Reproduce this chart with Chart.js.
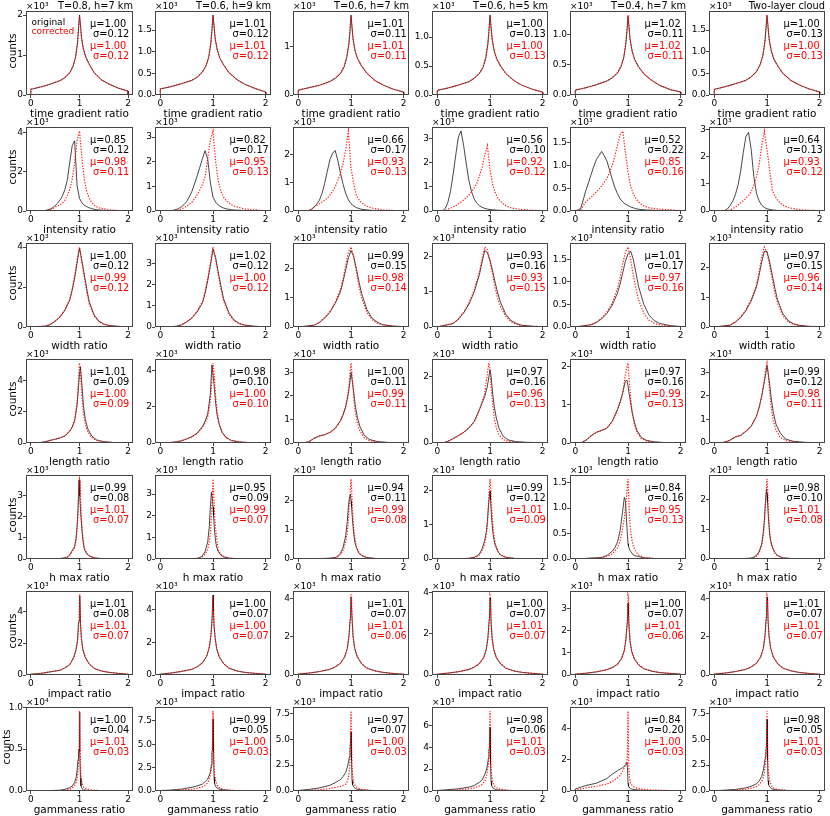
<!DOCTYPE html>
<html>
<head>
<meta charset="utf-8">
<script src="https://cdn.jsdelivr.net/npm/chart.js@4.4.0/dist/chart.umd.min.js"></script>
<style>
  body { margin: 0; background: #fff; }
  #fig { position: relative; width: 830px; height: 816px; overflow: hidden; font-family: 'DejaVu Sans', sans-serif; color: #000; }
  #fig canvas { position: absolute; }
  .t { position: absolute; white-space: pre; line-height: 1; }
</style>
</head>
<body>
<div id="fig"></div>
<script>
// column titles and x labels
var titles = ["T=0.8, h=7 km", "T=0.6, h=9 km", "T=0.6, h=7 km", "T=0.6, h=5 km", "T=0.4, h=7 km", "Two-layer cloud"];
var xLabels = ["time gradient ratio", "intensity ratio", "width ratio", "length ratio", "h max ratio", "impact ratio", "gammaness ratio"];

// row 1: time gradient ratio (counts x10^3)
var xTime = [0, 0.2, 0.4, 0.6, 0.7, 0.8, 0.87, 0.92, 0.96, 0.98, 1.0, 1.02, 1.04, 1.08, 1.13, 1.2, 1.3, 1.45, 1.6, 1.8, 2.0];
var timeOrig = [
  [0.14,0.2,0.27,0.36,0.43,0.56,0.72,0.95,1.3,1.65,2.0,1.75,1.45,1.15,0.95,0.77,0.56,0.38,0.28,0.17,0.1],
  [0.14,0.19,0.26,0.34,0.41,0.53,0.68,0.88,1.2,1.5,1.85,1.6,1.32,1.05,0.85,0.7,0.52,0.36,0.25,0.15,0.07],
  [0.1,0.15,0.2,0.28,0.34,0.44,0.58,0.78,1.05,1.3,1.65,1.4,1.15,0.9,0.74,0.6,0.45,0.3,0.21,0.12,0.06],
  [0.08,0.12,0.17,0.23,0.29,0.37,0.48,0.64,0.88,1.1,1.38,1.18,0.97,0.76,0.62,0.5,0.37,0.25,0.17,0.1,0.05],
  [0.08,0.12,0.17,0.23,0.28,0.36,0.47,0.62,0.85,1.05,1.3,1.12,0.92,0.72,0.58,0.47,0.35,0.24,0.16,0.09,0.05],
  [0.13,0.19,0.26,0.34,0.42,0.54,0.7,0.9,1.22,1.52,1.84,1.58,1.3,1.03,0.83,0.68,0.5,0.34,0.24,0.14,0.07]
];
var timeCorr = [
  [0.15,0.2,0.27,0.36,0.44,0.56,0.73,0.96,1.32,1.7,1.98,1.72,1.43,1.14,0.94,0.77,0.56,0.38,0.27,0.17,0.1],
  [0.14,0.2,0.26,0.34,0.41,0.54,0.69,0.89,1.22,1.52,1.83,1.58,1.3,1.04,0.85,0.7,0.52,0.36,0.25,0.15,0.07],
  [0.1,0.15,0.2,0.28,0.35,0.45,0.59,0.79,1.07,1.33,1.62,1.38,1.13,0.89,0.73,0.6,0.45,0.3,0.21,0.12,0.06],
  [0.08,0.12,0.17,0.23,0.29,0.38,0.49,0.65,0.9,1.12,1.36,1.16,0.96,0.75,0.61,0.5,0.37,0.25,0.17,0.1,0.05],
  [0.08,0.12,0.17,0.23,0.29,0.37,0.48,0.63,0.87,1.08,1.32,1.1,0.9,0.71,0.57,0.46,0.35,0.24,0.16,0.09,0.05],
  [0.13,0.19,0.26,0.34,0.42,0.54,0.71,0.91,1.24,1.55,1.85,1.56,1.28,1.02,0.83,0.68,0.5,0.34,0.24,0.14,0.07]
];
var timeTicks = [[0,1,2],[0,0.5,1,1.5],[0,1],[0,0.5,1],[0,0.5,1],[0,0.5,1,1.5]];

// row 2: intensity ratio
var xInten = [0,0.1,0.15,0.2,0.25,0.3,0.35,0.4,0.45,0.5,0.55,0.6,0.65,0.7,0.75,0.8,0.85,0.9,0.95,1.0,1.05,1.1,1.15,1.2,1.25,1.3,1.35,1.4,1.6,2.0];
var intenOrig = [
  [0,0,0,0,0.01,0.03,0.06,0.1,0.17,0.28,0.4,0.56,0.78,1.1,1.6,2.5,3.35,3.6,1.3,0.65,0.42,0.3,0.22,0.16,0.12,0.09,0.07,0.05,0.02,0],
  [0,0,0,0.01,0.03,0.06,0.1,0.17,0.26,0.38,0.57,0.8,1.1,1.43,1.78,2.13,2.45,2.1,1.15,0.56,0.36,0.24,0.17,0.12,0.09,0.07,0.05,0.04,0.02,0],
  [0,0,0,0.02,0.06,0.14,0.24,0.38,0.62,0.98,1.4,1.82,2.05,2.15,1.8,1.34,0.95,0.62,0.4,0.26,0.18,0.12,0.09,0.06,0.05,0.04,0.03,0.02,0.01,0],
  [0,0.01,0.1,0.35,0.8,1.5,2.3,3.05,3.3,2.7,1.95,1.25,0.8,0.5,0.32,0.22,0.15,0.11,0.08,0.06,0.05,0.04,0.03,0.03,0.02,0.02,0.01,0.01,0,0],
  [0,0.05,0.24,0.45,0.62,0.8,0.98,1.13,1.22,1.31,1.22,1.1,0.9,0.7,0.52,0.38,0.27,0.2,0.15,0.12,0.09,0.07,0.05,0.04,0.03,0.03,0.02,0.02,0.01,0],
  [0,0,0,0.02,0.08,0.2,0.36,0.6,0.95,1.46,2.15,2.75,2.9,2.27,1.27,0.65,0.38,0.21,0.13,0.08,0.06,0.04,0.03,0.02,0.02,0.01,0.01,0.01,0,0]
];
var intenCorr = [
  [0,0,0,0,0.01,0.02,0.04,0.08,0.13,0.2,0.26,0.32,0.42,0.55,0.8,1.1,1.6,2.5,3.6,4.1,2.7,1.6,1.0,0.65,0.45,0.3,0.22,0.16,0.06,0],
  [0,0,0,0.01,0.02,0.03,0.05,0.08,0.13,0.2,0.27,0.35,0.5,0.66,0.85,1.08,1.4,2.13,2.9,3.25,2.0,1.2,0.8,0.56,0.42,0.33,0.26,0.2,0.08,0.01],
  [0,0,0.01,0.02,0.06,0.14,0.2,0.26,0.32,0.38,0.46,0.56,0.7,0.86,1.08,1.34,1.7,2.18,2.84,1.5,1.0,0.56,0.4,0.3,0.22,0.17,0.13,0.1,0.04,0],
  [0,0,0.02,0.07,0.12,0.17,0.22,0.3,0.37,0.45,0.55,0.66,0.8,0.95,1.15,1.45,1.8,2.3,2.7,1.7,1.1,0.75,0.52,0.4,0.3,0.22,0.17,0.13,0.06,0.01],
  [0,0.02,0.12,0.2,0.26,0.3,0.36,0.42,0.48,0.55,0.63,0.72,0.85,1.0,1.2,1.45,1.68,1.76,1.3,0.85,0.55,0.38,0.27,0.2,0.15,0.11,0.09,0.07,0.04,0.01],
  [0,0,0,0.01,0.02,0.04,0.08,0.15,0.22,0.3,0.38,0.46,0.58,0.71,0.95,1.27,1.7,2.4,2.95,2.27,1.5,0.78,0.55,0.4,0.3,0.22,0.17,0.13,0.05,0.01]
];
var intenTicks = [[0,2,4],[0,1,2,3],[0,1,2],[0,1,2,3],[0,0.5,1,1.5],[0,1,2,3]];

// row 3: width ratio
var xWidth = [0,0.3,0.4,0.5,0.6,0.7,0.8,0.85,0.9,0.95,1.0,1.05,1.1,1.15,1.2,1.3,1.4,1.5,1.6,1.8,2.0];
var widthOrig = [
  [0,0.04,0.12,0.29,0.5,0.84,1.35,1.85,2.45,3.2,3.95,3.3,2.6,1.9,1.27,0.6,0.29,0.15,0.08,0.03,0.01],
  [0,0.03,0.1,0.24,0.42,0.72,1.15,1.6,2.2,2.9,3.7,3.3,2.6,1.95,1.35,0.68,0.33,0.17,0.09,0.03,0.01],
  [0,0.06,0.15,0.3,0.5,0.8,1.2,1.55,1.95,2.35,2.6,2.4,2.0,1.55,1.15,0.6,0.3,0.16,0.08,0.03,0.01],
  [0,0.1,0.22,0.4,0.65,1.0,1.5,1.85,2.18,2.12,1.9,1.6,1.25,0.95,0.7,0.36,0.18,0.1,0.05,0.02,0.01],
  [0,0.05,0.1,0.18,0.3,0.48,0.75,0.95,1.2,1.45,1.62,1.68,1.5,1.2,0.9,0.5,0.26,0.14,0.08,0.03,0.01],
  [0,0.06,0.16,0.32,0.55,0.88,1.35,1.75,2.2,2.55,2.55,2.2,1.75,1.3,0.92,0.45,0.22,0.11,0.06,0.02,0.01]
];
var widthCorr = [
  [0,0.05,0.13,0.3,0.52,0.86,1.4,1.9,2.55,3.35,4.0,3.2,2.45,1.75,1.15,0.55,0.26,0.13,0.07,0.03,0.01],
  [0,0.03,0.1,0.25,0.44,0.75,1.2,1.68,2.3,3.05,3.8,3.2,2.5,1.8,1.25,0.6,0.29,0.15,0.08,0.03,0.01],
  [0,0.06,0.16,0.32,0.52,0.84,1.28,1.65,2.1,2.55,2.72,2.4,1.9,1.4,1.0,0.5,0.25,0.13,0.07,0.03,0.01],
  [0,0.1,0.22,0.42,0.68,1.05,1.58,1.95,2.28,2.2,1.88,1.5,1.1,0.8,0.58,0.3,0.15,0.08,0.04,0.02,0.01],
  [0,0.05,0.1,0.2,0.33,0.53,0.85,1.1,1.4,1.65,1.77,1.5,1.15,0.85,0.6,0.3,0.15,0.08,0.05,0.02,0.01],
  [0,0.06,0.17,0.34,0.58,0.93,1.42,1.85,2.35,2.7,2.5,2.1,1.6,1.15,0.8,0.38,0.18,0.09,0.05,0.02,0.01]
];
var widthTicks = [[0,2,4],[0,1,2,3],[0,1,2],[0,1,2],[0,0.5,1,1.5],[0,1,2]];

// row 4: length ratio
var xLength = [0,0.1,0.2,0.3,0.4,0.5,0.6,0.7,0.8,0.85,0.9,0.95,0.98,1.0,1.02,1.05,1.08,1.12,1.17,1.25,1.35,1.5,1.7,2.0];
var lengthOrig = [
  [0,0,0.03,0.08,0.17,0.24,0.32,0.45,0.76,1.0,1.4,2.4,3.6,4.4,4.86,3.7,2.4,1.5,0.9,0.45,0.2,0.08,0.03,0.01],
  [0,0.01,0.03,0.06,0.12,0.22,0.35,0.55,0.9,1.2,1.6,2.7,4.3,3.8,3.2,2.2,1.5,1.0,0.6,0.3,0.14,0.06,0.02,0.01],
  [0,0.01,0.05,0.2,0.3,0.35,0.45,0.62,0.95,1.2,1.55,2.1,2.6,3.0,2.7,2.2,1.6,1.1,0.7,0.33,0.15,0.06,0.02,0.01],
  [0,0,0.05,0.13,0.22,0.32,0.45,0.64,1.0,1.2,1.39,1.7,2.0,2.2,2.0,1.5,1.1,0.75,0.45,0.2,0.09,0.04,0.02,0.01],
  [0,0,0.07,0.19,0.28,0.33,0.39,0.57,0.88,1.08,1.32,1.62,1.65,1.5,1.3,1.05,0.8,0.55,0.33,0.15,0.07,0.03,0.01,0],
  [0,0,0.04,0.12,0.26,0.32,0.5,0.71,1.14,1.5,2.0,2.6,3.0,3.29,3.0,2.5,1.9,1.3,0.8,0.43,0.17,0.07,0.03,0.01]
];
var lengthCorr = [
  [0,0,0.03,0.08,0.17,0.24,0.32,0.46,0.78,1.05,1.5,2.6,4.0,5.1,4.4,3.0,1.9,1.2,0.7,0.35,0.16,0.07,0.03,0.01],
  [0,0.01,0.03,0.06,0.12,0.22,0.34,0.52,0.85,1.1,1.45,2.3,3.5,4.4,3.9,2.6,1.7,1.05,0.6,0.28,0.13,0.05,0.02,0.01],
  [0,0.01,0.05,0.2,0.3,0.35,0.45,0.62,0.95,1.2,1.55,2.2,2.9,3.4,2.9,2.0,1.35,0.85,0.5,0.23,0.1,0.04,0.02,0.01],
  [0,0,0.05,0.13,0.22,0.32,0.45,0.64,1.0,1.22,1.5,2.1,2.4,2.2,1.7,1.2,0.75,0.45,0.25,0.1,0.05,0.02,0.01,0],
  [0,0,0.07,0.19,0.28,0.33,0.39,0.56,0.86,1.05,1.3,1.8,2.0,2.1,1.7,1.2,0.8,0.5,0.28,0.12,0.05,0.02,0.01,0],
  [0,0,0.04,0.12,0.26,0.32,0.5,0.71,1.14,1.5,2.0,2.7,3.2,3.4,3.0,2.2,1.5,0.95,0.55,0.25,0.1,0.04,0.02,0]
];
var lengthTicks = [[0,2,4],[0,2,4],[0,1,2,3],[0,1,2],[0,1,2],[0,1,2,3]];

// row 5: h max ratio
var xHmax = [0,0.5,0.6,0.7,0.75,0.8,0.85,0.9,0.93,0.95,0.97,0.99,1.0,1.01,1.03,1.05,1.07,1.1,1.15,1.2,1.3,1.5,2.0];
var hmaxOrig = [
  [0,0.01,0.02,0.05,0.1,0.2,0.4,0.6,1.0,1.56,2.4,3.75,3.6,3.0,2.0,1.4,0.9,0.45,0.25,0.15,0.05,0.01,0],
  [0,0.01,0.02,0.03,0.07,0.15,0.35,0.8,1.5,2.4,3.08,2.8,2.4,2.0,1.3,0.8,0.55,0.35,0.18,0.1,0.04,0.01,0],
  [0,0.02,0.03,0.05,0.1,0.2,0.4,0.8,1.3,1.8,2.1,2.23,2.0,1.8,1.3,0.9,0.6,0.4,0.2,0.12,0.05,0.01,0],
  [0,0.01,0.02,0.05,0.09,0.15,0.3,0.55,0.8,1.1,1.5,1.9,2.0,1.75,1.2,0.85,0.6,0.4,0.22,0.12,0.05,0.01,0],
  [0,0.03,0.07,0.15,0.22,0.33,0.55,0.95,1.21,1.15,0.8,0.45,0.3,0.25,0.18,0.15,0.12,0.08,0.06,0.05,0.02,0.01,0],
  [0,0.01,0.02,0.03,0.06,0.12,0.25,0.5,0.9,1.3,1.9,2.34,2.2,1.9,1.3,0.85,0.6,0.4,0.22,0.12,0.04,0.01,0]
];
var hmaxCorr = [
  [0,0.01,0.02,0.05,0.09,0.18,0.35,0.55,0.9,1.4,2.2,3.3,3.8,3.7,2.4,1.5,1.0,0.5,0.27,0.15,0.05,0.01,0],
  [0,0,0.01,0.02,0.05,0.1,0.22,0.45,0.8,1.2,2.0,3.0,3.7,3.3,2.0,1.4,0.95,0.4,0.2,0.12,0.04,0.01,0],
  [0,0.01,0.02,0.04,0.08,0.15,0.3,0.6,0.95,1.3,1.9,2.5,2.75,2.5,1.6,1.1,0.75,0.45,0.22,0.13,0.05,0.01,0],
  [0,0.01,0.02,0.04,0.07,0.12,0.25,0.45,0.7,1.0,1.6,2.15,2.35,2.2,1.5,1.1,0.75,0.45,0.22,0.12,0.05,0.01,0],
  [0,0.02,0.05,0.1,0.15,0.22,0.35,0.6,0.8,1.0,1.2,1.45,1.57,1.35,0.8,0.55,0.4,0.25,0.14,0.08,0.03,0.01,0],
  [0,0,0.01,0.02,0.05,0.1,0.2,0.45,0.8,1.2,1.8,2.4,2.69,2.4,1.5,0.9,0.6,0.4,0.2,0.1,0.03,0.01,0]
];
var hmaxTicks = [[0,1,2,3],[0,1,2,3],[0,1,2],[0,1,2],[0,0.5,1,1.5],[0,1,2]];

// row 6: impact ratio
var xImpact = [0,0.2,0.4,0.6,0.7,0.8,0.88,0.93,0.96,0.98,0.99,1.0,1.01,1.02,1.04,1.07,1.12,1.2,1.3,1.45,1.6,1.8,2.0];
var impactOrig = [
  [0.05,0.1,0.2,0.3,0.45,0.65,1.1,1.6,2.2,3.3,3.4,5.0,4.9,3.3,2.3,1.6,1.1,0.7,0.42,0.25,0.17,0.1,0.05],
  [0.05,0.12,0.22,0.35,0.5,0.75,1.15,1.7,2.4,3.3,4.0,4.9,3.9,3.0,2.3,1.6,1.1,0.7,0.42,0.25,0.16,0.1,0.05],
  [0.05,0.1,0.18,0.3,0.42,0.62,0.95,1.4,2.0,2.8,3.0,4.1,4.1,3.0,2.0,1.4,0.95,0.6,0.36,0.22,0.14,0.08,0.04],
  [0.04,0.09,0.16,0.27,0.38,0.56,0.85,1.25,1.8,2.5,2.8,3.75,3.6,2.6,1.8,1.25,0.85,0.55,0.33,0.2,0.13,0.08,0.04],
  [0.04,0.08,0.14,0.24,0.33,0.48,0.75,1.1,1.6,2.2,2.4,3.22,2.7,2.1,1.5,1.05,0.72,0.45,0.28,0.17,0.11,0.07,0.04],
  [0.05,0.1,0.18,0.3,0.42,0.62,0.95,1.4,2.0,2.8,3.1,4.1,3.9,2.9,2.0,1.4,0.95,0.6,0.36,0.22,0.14,0.08,0.04]
];
var impactCorr = [
  [0.05,0.1,0.2,0.3,0.45,0.65,1.1,1.6,2.2,3.0,3.6,5.05,5.05,3.2,2.2,1.6,1.1,0.7,0.42,0.25,0.17,0.1,0.05],
  [0.05,0.12,0.22,0.35,0.5,0.75,1.15,1.7,2.4,3.2,4.0,4.85,4.0,3.0,2.3,1.6,1.1,0.7,0.42,0.25,0.16,0.1,0.05],
  [0.05,0.1,0.18,0.3,0.42,0.62,0.95,1.4,2.0,2.7,3.0,4.2,4.2,2.9,2.0,1.4,0.95,0.6,0.36,0.22,0.14,0.08,0.04],
  [0.04,0.09,0.16,0.27,0.38,0.56,0.85,1.25,1.8,2.4,2.8,3.9,3.8,2.6,1.8,1.25,0.85,0.55,0.33,0.2,0.13,0.08,0.04],
  [0.04,0.08,0.14,0.24,0.33,0.48,0.75,1.1,1.6,2.2,2.6,3.6,3.5,2.3,1.55,1.1,0.75,0.47,0.29,0.18,0.11,0.07,0.04],
  [0.05,0.1,0.18,0.3,0.42,0.62,0.95,1.4,2.0,2.7,3.1,4.2,4.1,2.8,2.0,1.4,0.95,0.6,0.36,0.22,0.14,0.08,0.04]
];
var impactTicks = [[0,2,4],[0,2,4],[0,2,4],[0,2,4],[0,1,2,3],[0,2,4]];

// row 7: gammaness ratio (first panel is x10^4)
var xGamma = [0,0.2,0.4,0.6,0.7,0.8,0.85,0.9,0.93,0.95,0.97,0.98,0.99,1.0,1.01,1.02,1.03,1.05,1.08,1.12,1.2,1.4,2.0];
var gammaOrig = [
  [0,0.002,0.005,0.01,0.02,0.04,0.06,0.1,0.16,0.24,0.38,0.47,0.5,0.94,0.47,0.15,0.06,0.03,0.015,0.01,0.005,0.002,0],
  [0.05,0.1,0.2,0.4,0.55,0.74,1.0,1.28,1.7,2.0,2.8,4.2,4.3,7.66,4.2,1.5,0.8,0.5,0.3,0.2,0.12,0.05,0.01],
  [0.05,0.15,0.3,0.55,0.8,1.1,1.4,1.8,2.3,2.7,3.3,4.0,4.7,5.7,3.0,1.0,0.6,0.4,0.25,0.15,0.1,0.04,0.01],
  [0.05,0.12,0.2,0.35,0.5,0.8,1.0,1.5,1.9,2.3,3.0,3.8,3.9,5.8,2.5,0.9,0.5,0.3,0.2,0.12,0.08,0.03,0],
  [0.13,0.35,0.5,0.8,1.08,1.3,1.4,1.5,1.6,1.65,1.75,1.83,1.5,0.5,0.3,0.25,0.2,0.15,0.12,0.1,0.06,0.03,0.01],
  [0.03,0.08,0.15,0.3,0.45,0.7,0.95,1.4,2.0,2.6,3.3,4.0,4.2,6.9,3.0,1.0,0.6,0.4,0.25,0.15,0.1,0.04,0]
];
var gammaCorr = [
  [0,0.001,0.003,0.006,0.01,0.02,0.035,0.07,0.1,0.15,0.25,0.35,0.5,0.955,0.6,0.3,0.18,0.1,0.05,0.03,0.015,0.005,0],
  [0.02,0.05,0.1,0.2,0.3,0.45,0.6,0.9,1.3,1.7,2.5,3.3,5.0,8.55,5.5,2.8,1.8,1.1,0.6,0.35,0.15,0.05,0],
  [0.02,0.06,0.12,0.25,0.35,0.45,0.55,0.67,0.95,1.3,2.0,2.8,4.5,7.72,4.5,2.4,1.6,0.83,0.5,0.3,0.15,0.05,0],
  [0.02,0.05,0.1,0.2,0.28,0.45,0.6,0.9,1.3,1.8,2.4,3.0,4.5,7.3,4.5,2.3,1.5,0.9,0.5,0.3,0.15,0.05,0],
  [0.05,0.2,0.3,0.45,0.6,0.85,1.0,1.3,1.5,1.65,1.85,1.8,2.5,5.13,2.5,1.2,0.8,0.5,0.35,0.25,0.15,0.07,0.01],
  [0.01,0.04,0.08,0.18,0.27,0.45,0.6,0.9,1.3,1.8,2.6,3.2,4.8,7.72,4.8,2.5,1.6,1.0,0.55,0.3,0.15,0.05,0]
];
var gammaTicks = [[0,0.5,1],[0,2.5,5,7.5],[0,2.5,5,7.5],[0,2,4,6],[0,2,4],[0,2.5,5,7.5]];

// mean / sigma printed in each panel
var muOrig = [
  [1.00,1.01,1.01,1.00,1.02,1.00],
  [0.85,0.82,0.66,0.56,0.52,0.64],
  [1.00,1.02,0.99,0.93,1.01,0.97],
  [1.01,0.98,1.00,0.97,0.97,0.99],
  [0.99,0.95,0.94,0.99,0.84,0.98],
  [1.01,1.00,1.01,1.00,1.00,1.01],
  [1.00,0.99,0.97,0.98,0.84,0.98]
];
var sigOrig = [
  [0.12,0.12,0.11,0.13,0.11,0.13],
  [0.12,0.17,0.17,0.10,0.22,0.13],
  [0.12,0.12,0.15,0.16,0.17,0.15],
  [0.09,0.10,0.11,0.16,0.16,0.12],
  [0.08,0.09,0.11,0.12,0.16,0.10],
  [0.08,0.07,0.07,0.07,0.07,0.07],
  [0.04,0.05,0.07,0.06,0.20,0.05]
];
var muCorr = [
  [1.00,1.01,1.01,1.00,1.02,1.00],
  [0.98,0.95,0.93,0.92,0.85,0.93],
  [0.99,1.00,0.98,0.93,0.97,0.96],
  [1.00,1.00,0.99,0.96,0.99,0.98],
  [1.01,0.99,0.99,1.01,0.95,1.01],
  [1.01,1.00,1.01,1.01,1.01,1.01],
  [1.01,1.00,1.00,1.01,1.00,1.01]
];
var sigCorr = [
  [0.12,0.12,0.11,0.13,0.11,0.13],
  [0.11,0.13,0.13,0.12,0.16,0.12],
  [0.12,0.12,0.14,0.15,0.16,0.14],
  [0.09,0.10,0.11,0.13,0.13,0.11],
  [0.07,0.07,0.08,0.09,0.13,0.08],
  [0.07,0.07,0.06,0.07,0.06,0.07],
  [0.03,0.03,0.03,0.03,0.03,0.03]
];

var rows = [
  { x: xTime, orig: timeOrig, corr: timeCorr, ticks: timeTicks },
  { x: xInten, orig: intenOrig, corr: intenCorr, ticks: intenTicks },
  { x: xWidth, orig: widthOrig, corr: widthCorr, ticks: widthTicks },
  { x: xLength, orig: lengthOrig, corr: lengthCorr, ticks: lengthTicks },
  { x: xHmax, orig: hmaxOrig, corr: hmaxCorr, ticks: hmaxTicks },
  { x: xImpact, orig: impactOrig, corr: impactCorr, ticks: impactTicks },
  { x: xGamma, orig: gammaOrig, corr: gammaCorr, ticks: gammaTicks }
];

// layout (px)
var colLeft = [26, 155, 293, 432, 570, 709];
var colWidth = [107, 116, 116, 116, 116, 116];
var rowTop = [11, 127, 243, 359, 475, 591, 707];
var PH = 84, YW = 24, XH = 16, PT = 6, PR = 4;

Chart.defaults.font.family = "'DejaVu Sans', sans-serif";
Chart.defaults.color = "#000";

var fig = document.getElementById("fig");

function addText(txt, x, y, css, tx, ty) {
  var d = document.createElement("div");
  d.className = "t";
  d.textContent = txt;
  d.style.left = x + "px";
  d.style.top = y + "px";
  d.style.transform = "translate(" + (tx || "0") + "," + (ty || "-50%") + ")";
  for (var k in css) d.style[k] = css[k];
  fig.appendChild(d);
  return d;
}

var framePlugin = {
  id: "frame",
  afterDraw: function (chart) {
    var a = chart.chartArea, ctx = chart.ctx;
    ctx.save();
    ctx.strokeStyle = "#444";
    ctx.lineWidth = 1;
    ctx.strokeRect(Math.round(a.left) + 0.5, Math.round(a.top) + 0.5,
      Math.round(a.right - a.left) - 1, Math.round(a.bottom - a.top) - 1);
    ctx.restore();
  }
};

function toPoints(xs, ys) {
  var pts = [{ x: 0, y: 0 }];
  for (var i = 0; i < xs.length; i++) pts.push({ x: xs[i], y: ys[i] });
  pts.push({ x: 2, y: 0 });
  return pts;
}

function makePanel(r, c) {
  var L = colLeft[c], W = colWidth[c], T = rowTop[r];
  var row = rows[r];
  var orig = row.orig[c], corr = row.corr[c], yt = row.ticks[c];
  var top = 1.05 * Math.max.apply(null, orig.concat(corr));
  var dec = yt.some(function (v) { return v % 1 !== 0; }) ? 1 : 0;

  var cw = W + YW + PR, ch = PT + PH + XH;
  var cv = document.createElement("canvas");
  cv.width = cw; cv.height = ch;
  cv.style.left = (L - YW) + "px";
  cv.style.top = (T - PT) + "px";
  cv.style.width = cw + "px";
  cv.style.height = ch + "px";
  fig.appendChild(cv);

  var gridOpts = { display: true, drawOnChartArea: false, drawTicks: true, tickLength: 3, color: "#444", lineWidth: 1 };

  new Chart(cv, {
    type: "line",
    data: {
      datasets: [
        { data: toPoints(row.x, corr), borderColor: "rgba(255,0,0,0.9)", borderWidth: 1.2, borderDash: [1.3, 1.5], pointRadius: 0, tension: 0, fill: false },
        { data: toPoints(row.x, orig), borderColor: "rgba(0,0,0,0.72)", borderWidth: 1, pointRadius: 0, tension: 0, fill: false }
      ]
    },
    options: {
      responsive: false,
      animation: false,
      events: [],
      layout: { padding: { top: PT, right: PR, left: 0, bottom: 0 } },
      plugins: { legend: { display: false }, tooltip: { enabled: false } },
      scales: {
        x: {
          type: "linear", min: -0.1, max: 2.1,
          grid: gridOpts, border: { display: false },
          ticks: { padding: 0, font: { size: 9 }, color: "#000", maxRotation: 0, autoSkip: false,
                   callback: function (v) { return String(v); } },
          afterBuildTicks: function (s) { s.ticks = [0, 1, 2].map(function (v) { return { value: v }; }); },
          afterFit: function (s) { s.height = XH; s.paddingLeft = 0; s.paddingRight = 0; }
        },
        y: {
          type: "linear", min: 0, max: top,
          grid: gridOpts, border: { display: false },
          ticks: { padding: 0, font: { size: 9 }, color: "#000", autoSkip: false,
                   callback: function (v) { return Number(v).toFixed(dec); } },
          afterBuildTicks: function (s) { s.ticks = yt.map(function (v) { return { value: v }; }); },
          afterFit: function (s) { s.width = YW; s.paddingTop = 0; s.paddingBottom = 0; }
        }
      }
    },
    plugins: [framePlugin]
  });

  // texts
  var expo = (r === 6 && c === 0) ? "\u00d710\u2074" : "\u00d710\u00b3";
  addText(expo, L, T - 5, { fontSize: "9px" });
  if (r === 0) addText(titles[c], L + W, T - 5.5, { fontSize: "9.8px" }, "-100%");
  addText(xLabels[r], L + W / 2, T + PH + 17.5, { fontSize: "10.5px" }, "-50%");
  if (c === 0) {
    var cx = (r === 6) ? 5.5 : 11.5;
    addText("counts", cx, T + PH / 2 - 2, { fontSize: "10.5px", transform: "translate(-50%,-50%) rotate(-90deg)" });
  }
  var sx = L + (c === 0 ? 64 : 74.5);
  addText("\u03bc=" + muOrig[r][c].toFixed(2) + "\n \u03c3=" + sigOrig[r][c].toFixed(2), sx, T + 8,
    { fontSize: "9.8px", lineHeight: "10px", color: "#000" }, "0", "0");
  addText("\u03bc=" + muCorr[r][c].toFixed(2) + "\n \u03c3=" + sigCorr[r][c].toFixed(2), sx, T + 30,
    { fontSize: "9.8px", lineHeight: "10px", color: "#ff0000" }, "0", "0");
  if (r === 0 && c === 0) {
    addText("original", L + 5.5, T + 10.5, { fontSize: "9px", color: "#000" });
    addText("corrected", L + 5.5, T + 19.5, { fontSize: "9px", color: "#ff0000" });
  }
}

for (var r = 0; r < rows.length; r++) {
  for (var c = 0; c < 6; c++) makePanel(r, c);
}
</script>
</body>
</html>
